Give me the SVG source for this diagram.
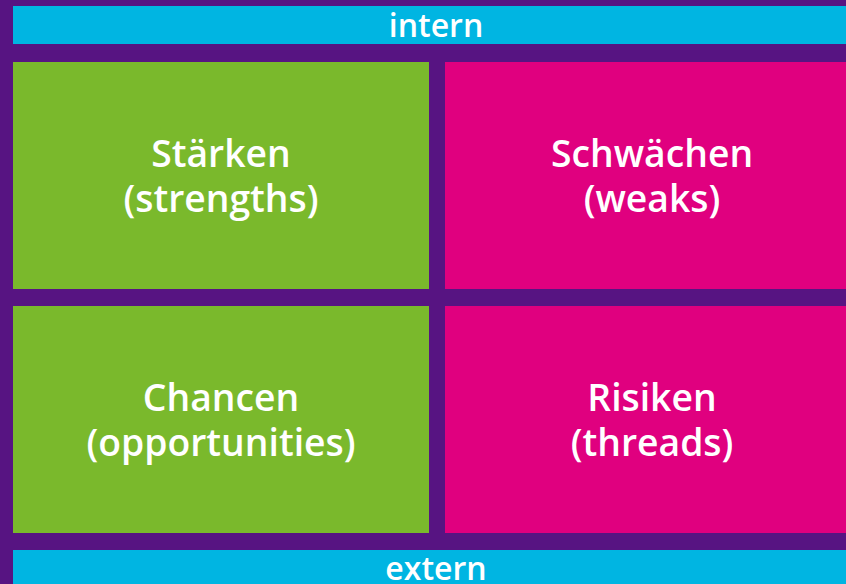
<svg xmlns="http://www.w3.org/2000/svg" width="846" height="584" viewBox="0 0 846 584">
<style>
.t{font-family:"Open Sans","Noto Sans",sans-serif;font-weight:600;fill:#ffffff;text-anchor:middle}
.big{font-size:37.3px}
.bar{font-size:32px}
</style>
<rect x="0" y="0" width="846" height="584" fill="#571482"/>
<g id="intern"><rect x="13" y="6" width="833" height="38" fill="#00b5e2"/><text class="t bar" x="436" y="37">intern</text></g>
<g id="staerken"><rect x="13" y="62" width="416" height="227" fill="#7ab92c"/><text class="t big" x="221" y="167">Stärken</text><text class="t big" x="221" y="212">(strengths)</text></g>
<g id="schwaechen"><rect x="445" y="62" width="401" height="227" fill="#e0007f"/><text class="t big" x="652" y="167">Schwächen</text><text class="t big" x="652" y="212">(weaks)</text></g>
<g id="chancen"><rect x="13" y="306" width="416" height="227" fill="#7ab92c"/><text class="t big" x="221" y="411">Chancen</text><text class="t big" x="221" y="456">(opportunities)</text></g>
<g id="risiken"><rect x="445" y="306" width="401" height="227" fill="#e0007f"/><text class="t big" x="652" y="411">Risiken</text><text class="t big" x="652" y="456">(threads)</text></g>
<g id="extern"><rect x="13" y="550" width="833" height="34" fill="#00b5e2"/><text class="t bar" x="436" y="580">extern</text></g>
<g id="connectors"/>
</svg>
